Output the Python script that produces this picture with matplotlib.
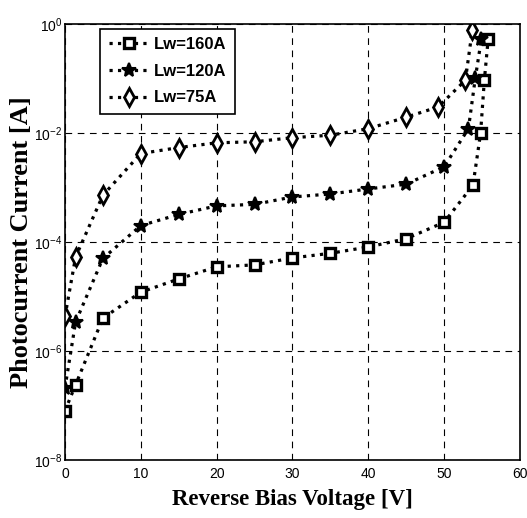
import numpy as np
import matplotlib
matplotlib.use('Agg')
import matplotlib.pyplot as plt

plt.rcParams['font.family'] = ['Liberation Sans', 'DejaVu Sans']
plt.rcParams['mathtext.fontset'] = 'custom'
plt.rcParams['mathtext.rm'] = 'Liberation Sans'
plt.rcParams['mathtext.it'] = 'Liberation Sans'

# Lw = 160A (squares)
v_160 = [0, 1.4, 5, 10, 15, 20, 25, 30, 35, 40, 45, 50, 53.8, 54.8, 55.3, 55.8]
i_160 = [8e-8, 2.4e-7, 4e-6, 1.2e-5, 2.1e-5, 3.5e-5, 3.8e-5, 5.1e-5, 6.2e-5,
         8.1e-5, 1.15e-4, 2.3e-4, 1.1e-3, 9.8e-3, 0.093, 0.52]

# Lw = 120A (stars)
v_120 = [0, 1.4, 5, 10, 15, 20, 25, 30, 35, 40, 45, 50, 53.2, 54.1, 54.9]
i_120 = [2.1e-7, 3.4e-6, 5e-5, 2.0e-4, 3.2e-4, 4.6e-4, 4.9e-4, 6.7e-4, 7.6e-4,
         9.4e-4, 1.15e-3, 2.4e-3, 1.2e-2, 0.10, 0.52]

# Lw = 75A (diamonds)
v_75 = [0, 1.4, 5, 10, 15, 20, 25, 30, 35, 40, 45, 49.2, 52.8, 53.7]
i_75 = [4.3e-6, 5.3e-5, 7.2e-4, 4.2e-3, 5.4e-3, 6.6e-3, 6.9e-3, 8.2e-3, 9.1e-3,
        1.2e-2, 0.0195, 0.030, 0.093, 0.76]

x_ticks = [0, 10, 20, 30, 40, 50, 60]
y_ticks = [1e-8, 1e-6, 1e-4, 1e-2, 1e0]
y_tick_labels = ['$10^{-8}$', '$10^{-6}$', '$10^{-4}$', '$10^{-2}$', '$10^{0}$']

fig = plt.figure(figsize=(5.27, 5.18), dpi=100)
ax = fig.add_axes([0.1233, 0.112, 0.8634, 0.8417])

ax.semilogy(v_160, i_160, color='black', linestyle=':', linewidth=2.3,
            marker='s', markersize=7.5, markerfacecolor='white',
            markeredgecolor='black', markeredgewidth=2.4, label='Lw=160A')
ax.semilogy(v_120, i_120, color='black', linestyle=':', linewidth=2.3,
            marker='*', markersize=10.5, markerfacecolor='black',
            markeredgecolor='black', markeredgewidth=1.5, label='Lw=120A')
ax.semilogy(v_75, i_75, color='black', linestyle=':', linewidth=2.3,
            marker='d', markersize=9, markerfacecolor='white',
            markeredgecolor='black', markeredgewidth=2, label='Lw=75A')

ax.set_xlim(0, 60)
ax.set_ylim(1e-8, 1e0)
ax.set_xticks(x_ticks)
ax.set_yticks(y_ticks)
ax.set_yticklabels(y_tick_labels)
ax.minorticks_off()
ax.tick_params(direction='in', length=0, labelsize=10)
ax.tick_params(axis='y', pad=2)
ax.tick_params(axis='x', pad=5)
ax.grid(True, which='major', color='black', linestyle=(0, (6, 5)), linewidth=0.8)
for s in ax.spines.values():
    s.set_linewidth(1.2)

ax.set_xlabel('Reverse Bias Voltage [V]', family='Liberation Serif',
              fontweight='bold', fontsize=16.5, labelpad=6)
ax.set_ylabel('Photocurrent Current [A]', family='Liberation Serif',
              fontweight='bold', fontsize=19)
ax.yaxis.set_label_coords(-0.0813, 0.5)
ax.yaxis.label.set_verticalalignment('baseline')

leg = ax.legend(loc='upper left', bbox_to_anchor=(0.078, 0.989),
                borderaxespad=0, prop={'weight': 'bold', 'size': 12},
                fancybox=False, edgecolor='black', framealpha=1,
                handlelength=2.4, borderpad=0.5, labelspacing=0.7,
                handletextpad=0.3)
leg.get_frame().set_linewidth(1.2)

fig.savefig('out.png', dpi=100, facecolor='white')
